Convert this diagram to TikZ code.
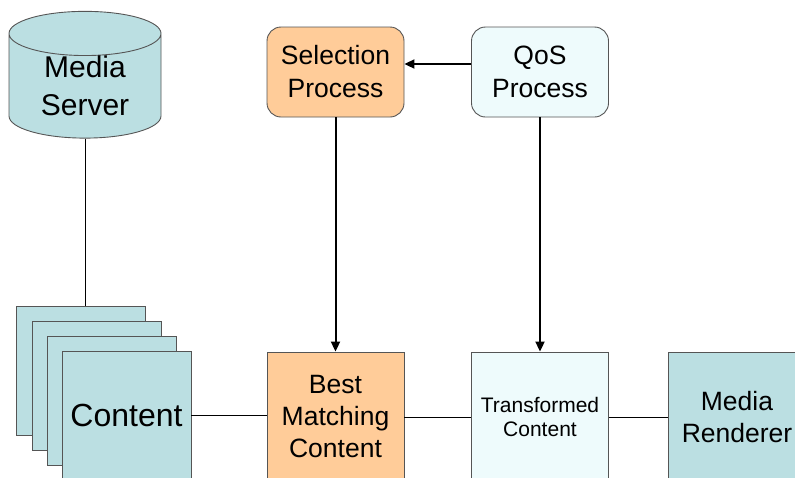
\documentclass[tikz,border=0pt]{standalone}
\usepackage{fontspec}
\setmainfont{Liberation Sans}
\usetikzlibrary{arrows.meta, positioning, shapes.geometric}

\definecolor{mediateal}{HTML}{BBDFE2}
\definecolor{selorange}{HTML}{FFCC99}
\definecolor{qoscyan}{HTML}{EEFBFC}
\definecolor{edgegray}{HTML}{555555}

\begin{document}
\begin{tikzpicture}[
    x=1pt, y=-1pt,
    box/.style={rectangle, draw=edgegray, line width=0.9pt, minimum width=137pt, minimum height=130pt,
                align=center, inner sep=0pt, font=\fontsize{26.5}{32}\selectfont},  % content boxes
    proc/.style={box, rounded corners=14pt, minimum height=90pt,
                 font=\fontsize{26.5}{33}\selectfont},                             % process boxes
    sheet/.style={rectangle, draw=edgegray, line width=0.9pt, fill=mediateal,
                  minimum width=129pt, minimum height=129pt},                      % stacked content
    link/.style={draw=black, line width=0.8pt},                                    % plain lines
    flow/.style={-{Triangle[length=10pt, width=9pt]}, line width=2pt}              % arrows
]

\useasboundingbox (0,0) rectangle (795,477);
\clip (0,0) rectangle (795,477);

% --- MEDIA SERVER ---
\node[cylinder, shape border rotate=90, aspect=0.5, draw=edgegray, line width=0.9pt, fill=mediateal,
      minimum width=152pt, minimum height=120pt, align=center, inner sep=0pt,
      font=\fontsize{30}{38}\selectfont] (server) at (85,86) {Media\\Server};

% --- CONTENT STACK ---
\node[sheet] (sheet3) at (81,370.5) {};
\node[sheet] (sheet2) at (96.5,385.5) {};
\node[sheet] (sheet1) at (111.5,400.5) {};
\node[sheet, font=\fontsize{32}{38}\selectfont] (content) at (126.5,415.5) {Content};

% --- PROCESSES ---
\node[proc, fill=selorange] (select) at (335.5,72) {Selection\\Process};
\node[proc, fill=qoscyan] (qos) at (540,72) {QoS\\Process};

% --- PIPELINE ---
\node[box, fill=selorange] (best) at (335.5,417) {Best\\Matching\\Content};
\node[box, fill=qoscyan, font=\fontsize{21}{24}\selectfont] (trans) at (540,417) {Transformed\\Content};
\node[box, fill=mediateal] (render) at (737,417) {Media\\Renderer};

% --- CONNECTIONS ---
\draw[link] (server.south) -- (server.south |- sheet3.north);
\draw[link] (content.east) -- (content.east -| best.west);
\draw[link] (best) -- (trans);
\draw[link] (trans) -- (render);

\draw[flow] ([yshift=8pt]qos.west) -- ([yshift=8pt]select.east);
\draw[flow] (select) -- (best);
\draw[flow] (qos) -- (trans);

\end{tikzpicture}
\end{document}
